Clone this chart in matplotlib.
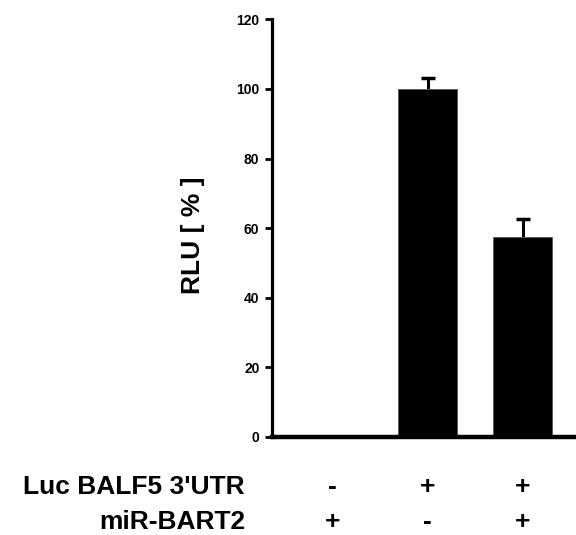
import matplotlib
matplotlib.use("Agg")
import matplotlib.pyplot as plt
import matplotlib.transforms as mtransforms

plt.rcParams["font.family"] = ["Liberation Sans", "DejaVu Sans"]
plt.rcParams["font.weight"] = "bold"

# data
positions = [0, 1, 2]
rlu = [0, 100, 57.5]
rlu_err = [0, 3.3, 5.2]
row_labels = ["Luc BALF5 3'UTR", "miR-BART2"]
luc_signs = ["-", "+", "+"]
mir_signs = ["+", "-", "+"]
yticks = [0, 20, 40, 60, 80, 100, 120]

fig = plt.figure(figsize=(5.76, 5.35), dpi=100)
fig.patch.set_facecolor("white")
ax = fig.add_axes([272 / 576, 1 - 437 / 535, 304 / 576, 417.6 / 535])

ax.bar(positions, rlu, width=0.62, color="black", edgecolor="#555555", linewidth=0.6, zorder=2)
_, caps, _ = ax.errorbar(positions[1:], rlu[1:], yerr=[[0, 0], rlu_err[1:]], fmt="none",
                         ecolor="black", elinewidth=2.2, capsize=5, capthick=2.5, zorder=1)
caps[0].set_visible(False)  # upper error only

ax.set_xlim(-0.637, 2.563)
ax.set_ylim(0, 120)
ax.set_yticks(yticks)
ax.set_xticks([])
ax.tick_params(axis="y", direction="out", length=5, width=2, pad=4, labelsize=10)
for lab in ax.get_yticklabels():
    lab.set_fontweight("bold")

ax.spines["top"].set_visible(False)
ax.spines["right"].set_visible(False)
ax.spines["left"].set_linewidth(2.3)
ax.spines["bottom"].set_linewidth(3.2)

ax.set_ylabel("RLU [ % ]", fontsize=19, fontweight="bold")
ax.yaxis.set_label_coords(-0.22, 0.484)

# +/- table below the axis
trans = mtransforms.blended_transform_factory(ax.transData, fig.transFigure)
y1 = 1 - 494 / 535
y2 = 1 - 529 / 535
fig.text(245 / 576, y1, row_labels[0], ha="right", va="baseline", fontsize=19, fontweight="bold")
fig.text(245 / 576, y2, row_labels[1], ha="right", va="baseline", fontsize=19, fontweight="bold")
for x, s1, s2 in zip(positions, luc_signs, mir_signs):
    ax.text(x, y1, s1, transform=trans, ha="center", va="baseline", fontsize=19, fontweight="bold")
    ax.text(x, y2, s2, transform=trans, ha="center", va="baseline", fontsize=19, fontweight="bold")

fig.savefig("out.png", dpi=100, facecolor=fig.get_facecolor())
plt.close(fig)
